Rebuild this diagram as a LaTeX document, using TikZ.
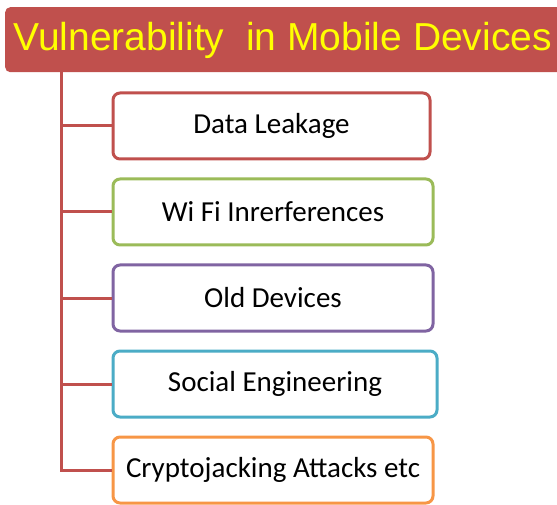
\documentclass[tikz,border=0pt]{standalone}
\usepackage{fontspec}
\setmainfont{Carlito}
\newfontfamily\titlefont{Liberation Sans}
\definecolor{vred}{HTML}{C0504D}
\definecolor{vgreen}{HTML}{9BBB59}
\definecolor{vpurple}{HTML}{8064A2}
\definecolor{vcyan}{HTML}{4BACC6}
\definecolor{vorange}{HTML}{F79646}
\definecolor{vyellow}{HTML}{FFFF00}
\tikzset{
  threat/.style={draw, line width=3pt, rounded corners=7pt, fill=white,
    minimum height=66pt, font=\fontsize{29}{32}\selectfont, inner sep=0pt},
  branch/.style={draw=vred, line width=3pt}
}
\begin{document}
\begin{tikzpicture}[x=1pt, y=1pt]
\useasboundingbox (0,0) rectangle (557,-505);
% title bar (runs past the right edge)
\node[fill=vred, rounded corners=5pt, minimum width=570pt, minimum height=65pt,
  anchor=north west, inner sep=0pt] (title) at (5,-7) {};
\node[anchor=west, text=vyellow, font=\titlefont\fontsize{39}{42}\selectfont]
  (titletext) at (10,-40) {Vulnerability \ in Mobile Devices};
% the five boxes
\node[threat, draw=vred, minimum width=317pt] (leak) at (271.5,-126) {Data Leakage};
\node[threat, draw=vgreen, minimum width=320pt] (wifi) at (273,-212) {Wi Fi Inrerferences};
\node[threat, draw=vpurple, minimum width=320pt] (old) at (273,-298) {Old Devices};
\node[threat, draw=vcyan, minimum width=324pt] (social) at (275,-384) {Social Engineering};
\node[threat, draw=vorange, minimum width=320pt] (crypto) at (273,-470) {Cryptojacking Attacks etc};
% tree lines
\coordinate (trunk) at (61,-72);
\draw[branch] (trunk) |- (crypto.west);
\foreach \b in {leak, wifi, old, social} {
  \draw[branch] (trunk |- \b.west) -- (\b.west);
}
\end{tikzpicture}
\end{document}
